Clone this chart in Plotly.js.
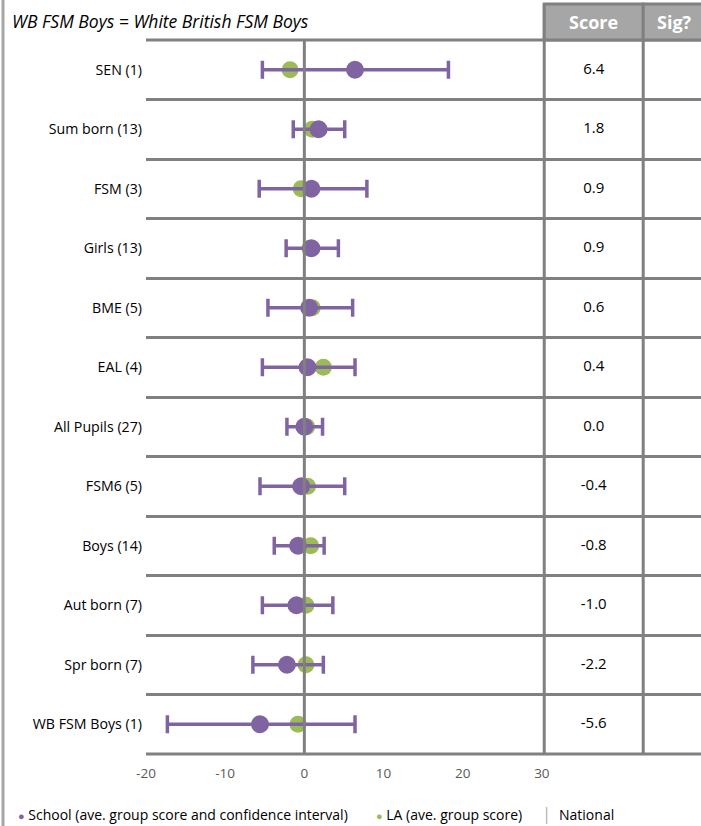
<!DOCTYPE html>
<html>
<head>
<meta charset="utf-8">
<script src="https://cdn.plot.ly/plotly-3.0.1.min.js"></script>
<style>
  html, body { margin: 0; padding: 0; background: #ffffff; }
  #chart { width: 701px; height: 826px; }
</style>
</head>
<body>
<div id="chart"></div>
<script>
// ---- data ----
const categories = ["SEN (1)", "Sum born (13)", "FSM (3)", "Girls (13)", "BME (5)", "EAL (4)",
  "All Pupils (27)", "FSM6 (5)", "Boys (14)", "Aut born (7)", "Spr born (7)", "WB FSM Boys (1)"];
const schoolScore = [6.4, 1.8, 0.9, 0.9, 0.6, 0.4, 0.0, -0.4, -0.8, -1.0, -2.2, -5.6];
const ciLow  = [-5.3, -1.4, -5.7, -2.3, -4.6, -5.3, -2.2, -5.6, -3.8, -5.3, -6.5, -17.3];
const ciHigh = [18.2, 5.1, 7.9, 4.3, 6.1, 6.4, 2.3, 5.1, 2.5, 3.6, 2.4, 6.4];
const laScore = [-1.8, 1.0, -0.4, 0.7, 1.0, 2.4, 0.3, 0.4, 0.8, 0.2, 0.2, -0.8];
const xTicks = [-20, -10, 0, 10, 20, 30];
const scoreLabels = schoolScore.map(v => v.toFixed(1));

const PURPLE = "#8064a2", GREEN = "#9bbb59", GRID = "#808080";
const FONT = "'Open Sans', sans-serif";
const scoreColX = 36.55;   // centre of Score column in axis units
const colLine1 = 30.3, colLine2 = 42.8, xMax = 50.1;

const traces = [
  {
    type: "scatter", mode: "markers", x: laScore, y: categories,
    marker: { color: GREEN, size: 17 }, hoverinfo: "x", showlegend: false
  },
  {
    type: "scatter", mode: "markers", x: schoolScore, y: categories,
    marker: { color: PURPLE, size: 18 },
    error_x: {
      type: "data", symmetric: false,
      array: ciHigh.map((h, i) => h - schoolScore[i]),
      arrayminus: schoolScore.map((s, i) => s - ciLow[i]),
      color: PURPLE, thickness: 3.5, width: 9
    },
    hoverinfo: "x", showlegend: false
  },
  {
    type: "scatter", mode: "text", x: categories.map(() => scoreColX), y: categories,
    text: scoreLabels, textfont: { family: FONT, size: 15, color: "#000000" },
    hoverinfo: "skip", showlegend: false, cliponaxis: false
  }
];

const PH = 714; // plot height in px (40 -> 754)
const topPaper = (754 - 4) / PH;
const shapes = [
  // column separators
  { type: "line", xref: "x", yref: "paper", x0: colLine1, x1: colLine1, y0: 0, y1: topPaper,
    line: { color: GRID, width: 3 }, layer: "above" },
  { type: "line", xref: "x", yref: "paper", x0: colLine2, x1: colLine2, y0: 0, y1: topPaper,
    line: { color: GRID, width: 3 }, layer: "above" },
  // header boxes
  { type: "rect", xref: "x", yref: "paper", x0: colLine1, x1: colLine2, y0: 1.0, y1: topPaper,
    fillcolor: "#a6a6a6", line: { color: GRID, width: 3 }, layer: "above" },
  { type: "rect", xref: "x", yref: "paper", x0: colLine2, x1: xMax + 1, y0: 1.0, y1: topPaper,
    fillcolor: "#a6a6a6", line: { color: GRID, width: 3 }, layer: "above" },
  // national (zero) line on top of marks
  { type: "line", xref: "x", yref: "paper", x0: 0, x1: 0, y0: 0, y1: 1.0,
    line: { color: GRID, width: 3 }, layer: "above" },
  // top and bottom borders of plot
  { type: "line", xref: "paper", yref: "paper", x0: 0, x1: 1, y0: 1, y1: 1,
    line: { color: GRID, width: 3 }, layer: "below" },
  { type: "line", xref: "paper", yref: "paper", x0: 0, x1: 1, y0: 0, y1: 0,
    line: { color: GRID, width: 3 }, layer: "above" },
  // left frame line
  { type: "line", xref: "paper", yref: "paper", x0: (3 - 146) / 555, x1: (3 - 146) / 555,
    y0: (754 - 830) / PH, y1: (754 + 2) / PH, line: { color: "#a6a6a6", width: 3 } }
];

const legY = (754 - 815) / PH;
const annotations = [
  { xref: "x", yref: "paper", x: (colLine1 + colLine2) / 2, y: (754 - 22) / PH, yanchor: "middle",
    text: "<b>Score</b>", showarrow: false, font: { family: FONT, size: 18, color: "#ffffff" } },
  { xref: "x", yref: "paper", x: (colLine2 + xMax) / 2 + 0.3, y: (754 - 22) / PH, yanchor: "middle",
    text: "<b>Sig?</b>", showarrow: false, font: { family: FONT, size: 18, color: "#ffffff" } },
  { xref: "paper", yref: "paper", x: (10 - 146) / 555, y: (754 - 21) / PH, xanchor: "left", yanchor: "middle",
    text: "<i>WB FSM Boys = White British FSM Boys</i>", showarrow: false,
    font: { family: FONT, size: 17.5, color: "#000000" } },
  { xref: "paper", yref: "paper", x: (16 - 146) / 555, y: legY, xanchor: "left", yanchor: "middle",
    text: '<span style="color:' + PURPLE + ';font-size:11px">●</span> School (ave. group score and confidence interval)',
    showarrow: false, font: { family: FONT, size: 14, color: "#000000" } },
  { xref: "paper", yref: "paper", x: (374 - 146) / 555, y: legY, xanchor: "left", yanchor: "middle",
    text: '<span style="color:' + GREEN + ';font-size:11px">●</span> LA (ave. group score)',
    showarrow: false, font: { family: FONT, size: 14, color: "#000000" } },
  { xref: "paper", yref: "paper", x: (541 - 146) / 555, y: legY, xanchor: "left", yanchor: "middle",
    text: '<span style="color:#a6a6a6">│</span>  National',
    showarrow: false, font: { family: FONT, size: 14, color: "#000000" } }
];

const layout = {
  width: 701, height: 826,
  margin: { l: 146, r: 0, t: 40, b: 72, pad: 0, autoexpand: false },
  paper_bgcolor: "#ffffff", plot_bgcolor: "#ffffff",
  showlegend: false,
  xaxis: {
    range: [-20, xMax], tickvals: xTicks, ticktext: xTicks.map(String),
    showgrid: false, zeroline: false, showline: false, ticks: "", automargin: false,
    tickfont: { family: FONT, size: 13.5, color: "#595959" }, ticklabelstandoff: 9,
    fixedrange: true
  },
  yaxis: {
    type: "category", categoryorder: "array", categoryarray: categories,
    range: [categories.length - 0.5, -0.5], autorange: false,
    tickson: "boundaries", showgrid: true, automargin: false,
    gridcolor: GRID, gridwidth: 3, zeroline: false, showline: false, ticks: "",
    tickfont: { family: FONT, size: 14.2, color: "#000000" }, ticklabelstandoff: 3,
    fixedrange: true
  },
  shapes: shapes,
  annotations: annotations,
  font: { family: FONT }
};

Plotly.newPlot("chart", traces, layout, { displayModeBar: false, staticPlot: true });
</script>
</body>
</html>
